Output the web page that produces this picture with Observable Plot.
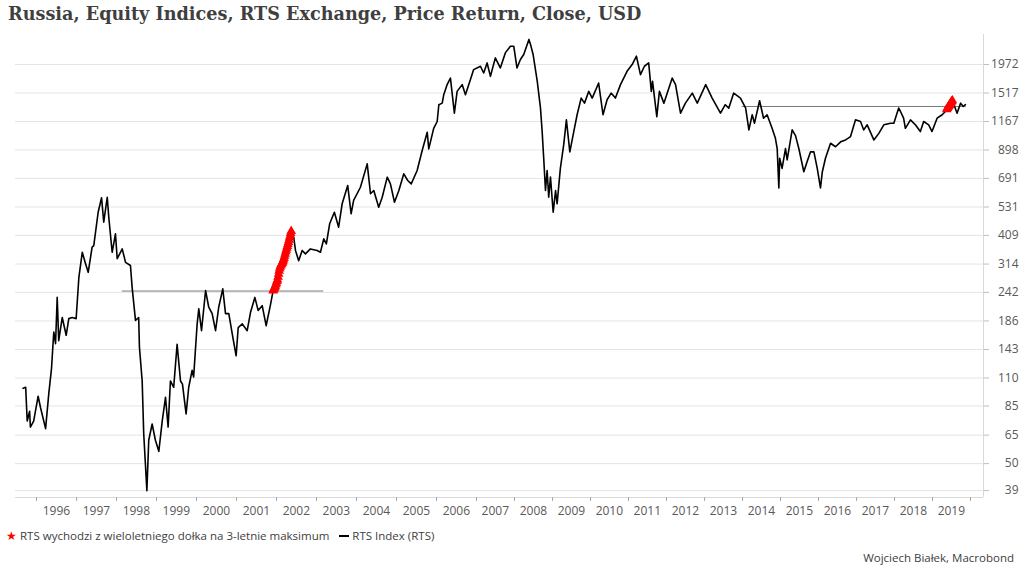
<!DOCTYPE html>
<html><head><meta charset="utf-8">
<script src="https://cdn.jsdelivr.net/npm/d3@7"></script>
<script src="https://cdn.jsdelivr.net/npm/@observablehq/plot@0.6"></script>
<style>
html,body{margin:0;padding:0;background:#fff;}
body{width:1024px;height:574px;overflow:hidden;position:relative;font-family:"Open Sans",sans-serif;}
#title{position:absolute;left:8px;top:3px;font-family:"DejaVu Serif",Georgia,serif;font-weight:bold;font-size:18px;color:#3f3f3f;white-space:nowrap;}
#chart{position:absolute;left:0;top:30px;}
#legend{position:absolute;left:6px;top:527px;font-size:11.5px;color:#404040;white-space:nowrap;display:flex;align-items:center;}
#legend .star{color:#ff0000;font-size:12px;margin-right:3px;}
#legend .ln{display:inline-block;width:10px;height:2px;background:#000;margin:0 3px 0 10px;}
#caption{position:absolute;right:10px;top:550px;font-size:11.5px;color:#404040;white-space:nowrap;}
</style>
</head><body>
<div id="title">Russia, Equity Indices, RTS Exchange, Price Return, Close, USD</div>
<div id="chart"></div>
<div id="legend"><span class="star">★</span><span id="leg1">RTS wychodzi z wieloletniego dołka na 3-letnie maksimum</span><span class="ln"></span><span>RTS Index (RTS)</span></div>
<div id="caption">Wojciech Białek, Macrobond</div>
<script>
const rtsDates = [
"1995-09-01","1995-09-24","1995-10-08","1995-10-30","1995-11-06","1995-12-06",
"1996-01-16","1996-02-06","1996-03-24","1996-04-22","1996-05-17","1996-05-29","1996-06-07","1996-06-23","1996-07-08","1996-07-22","1996-08-23","1996-09-28","1996-10-22","1996-11-22","1996-12-28",
"1997-01-22","1997-02-22","1997-03-24","1997-04-17","1997-05-23","1997-06-07","1997-07-17","1997-08-17","1997-09-06","1997-10-08","1997-10-22","1997-11-22","1997-12-22",
"1998-01-07","1998-02-22","1998-03-24","1998-05-08","1998-05-23","1998-06-23","1998-07-22","1998-07-29","1998-08-23","1998-09-06","1998-10-05","1998-10-22","1998-11-22","1998-12-22",
"1999-01-22","1999-02-22","1999-03-24","1999-04-17","1999-05-08","1999-06-07","1999-07-08","1999-08-08","1999-08-26","1999-09-28","1999-10-22","1999-11-22","1999-12-06",
"2000-01-07","2000-01-22","2000-02-16","2000-03-24","2000-04-22","2000-05-23","2000-06-23","2000-07-22","2000-08-28","2000-09-22","2000-10-22","2000-11-28","2000-12-28",
"2001-01-16","2001-02-22","2001-04-08","2001-05-08","2001-06-17","2001-07-17","2001-08-23","2001-09-28","2001-11-06","2001-12-01","2001-12-10","2001-12-25",
"2002-01-10","2002-01-25","2002-02-10","2002-02-25","2002-03-12","2002-03-28","2002-04-12","2002-04-28","2002-05-15","2002-06-07","2002-06-23","2002-07-22","2002-08-23","2002-09-22","2002-11-06",
"2003-01-07","2003-02-06","2003-03-08","2003-04-01","2003-05-01","2003-06-13","2003-07-22","2003-08-23","2003-10-13","2003-11-13","2003-12-06",
"2004-02-06","2004-04-08","2004-05-08","2004-06-07","2004-07-22","2004-08-23","2004-10-08","2004-11-06","2004-12-13",
"2005-01-22","2005-03-08","2005-04-13","2005-05-15","2005-07-08","2005-08-23","2005-10-08","2005-10-22","2005-12-06",
"2006-01-07","2006-01-22","2006-02-22","2006-03-08","2006-04-08","2006-05-08","2006-06-13","2006-07-08","2006-08-23","2006-09-22","2006-11-06","2006-12-06",
"2007-02-08","2007-03-11","2007-04-13","2007-05-15","2007-07-01","2007-08-18","2007-10-05","2007-11-23","2007-12-25",
"2008-01-25","2008-02-27","2008-03-30","2008-05-19","2008-06-03","2008-06-28","2008-08-07","2008-09-07","2008-09-23","2008-10-08","2008-10-25","2008-11-10","2008-11-25","2008-12-12",
"2009-01-07","2009-01-30","2009-02-14","2009-03-17","2009-04-18","2009-05-14","2009-06-16","2009-07-24","2009-08-25","2009-10-03","2009-11-04","2009-12-15",
"2010-01-17","2010-03-20","2010-05-01","2010-06-09","2010-07-18","2010-08-28","2010-10-16","2010-12-18",
"2011-02-05","2011-03-18","2011-04-26","2011-06-03","2011-07-14","2011-08-08","2011-08-20","2011-09-30","2011-10-25","2011-12-07",
"2012-02-25","2012-03-28","2012-05-15","2012-07-01","2012-09-05","2012-10-23",
"2013-01-12","2013-03-15","2013-06-03","2013-07-19","2013-08-22","2013-10-08","2013-12-12",
"2014-01-31","2014-03-03","2014-04-04","2014-04-26","2014-06-14","2014-07-22","2014-08-25","2014-10-12","2014-11-13","2014-11-30","2014-12-16","2014-12-24",
"2015-01-16","2015-02-18","2015-03-06","2015-04-23","2015-05-25","2015-06-26","2015-08-13","2015-09-14","2015-10-16","2015-11-18","2015-12-20",
"2016-01-20","2016-02-07","2016-03-08","2016-04-26","2016-06-13","2016-08-01","2016-09-17","2016-11-04","2016-12-22",
"2017-02-08","2017-03-11","2017-04-13","2017-06-16","2017-08-03","2017-09-20","2017-11-23","2017-12-25",
"2018-02-10","2018-02-27","2018-03-29","2018-04-15","2018-06-03","2018-07-20","2018-09-06","2018-10-08","2018-11-25","2018-12-27",
"2019-02-14","2019-04-04","2019-05-05","2019-05-25","2019-06-20","2019-07-10","2019-08-25","2019-09-28","2019-10-24","2019-11-13"
];
const rtsValues = [
100,101,74,81,70,74,
93,84,69,95,120,146,168,151,231,155,192,163,190,192,190,
278,350,315,291,367,372,506,578,462,581,483,350,415,
330,361,319,310,254,187,192,146,107,66,39,62,72,62,
56,74,92,70,107,101,150,107,104,79,101,118,111,
181,208,170,246,211,199,170,211,250,199,199,160,135,
175,181,170,201,231,205,214,178,215,246,250,258,
272,295,312,318,335,358,378,400,425,402,356,324,356,345,361,
356,350,396,378,455,506,441,547,647,499,564,
637,790,600,618,530,581,699,657,555,
618,721,678,657,743,893,1057,907,1096,
1167,1362,1382,1494,1639,1741,1260,1540,1639,1494,1716,1882,
1941,1824,2001,1769,2096,1911,2195,2335,2335,
1911,2065,2163,2485,2373,2163,1690,1320,1064,832,618,743,581,699,
506,618,547,758,941,1185,882,1064,1242,1448,1382,1540,
1448,1663,1242,1426,1516,1448,1639,1853,
1972,2129,1797,1941,2001,1540,1690,1221,1540,1382,
1741,1639,1260,1382,1516,1382,
1639,1448,1260,1362,1320,1516,1448,
1320,1080,1242,1149,1413,1203,1242,1096,1000,910,633,832,
758,910,820,1080,1025,910,735,807,882,882,758,
633,735,832,955,925,968,985,1016,1185,
1167,1080,1132,985,1046,1132,1149,1149,
1320,1280,1203,1096,1185,1132,1064,1167,1132,1064,
1203,1242,1280,1320,1380,1420,1260,1382,1340,1362
];
// breakout to 3-year highs (red markers)
const breakoutDates = ["2001-12-01","2001-12-06","2001-12-11","2001-12-16","2001-12-21","2001-12-26","2001-12-31","2002-01-05","2002-01-10","2002-01-15","2002-01-20","2002-01-25","2002-01-30","2002-02-04","2002-02-09","2002-02-14","2002-02-19","2002-02-24","2002-03-01","2002-03-06","2002-03-11","2002-03-16","2002-03-21","2002-03-26","2002-03-31","2002-04-05","2002-04-10","2002-04-15","2002-04-20","2002-04-25","2002-04-30","2002-05-05","2002-05-10","2002-05-15",
"2019-05-18","2019-05-24","2019-05-30","2019-06-05","2019-06-11","2019-06-17","2019-06-23","2019-06-29","2019-07-05","2019-07-11"];
const breakoutValues = [246,248,251,254,257,260,264,268,272,279,287,295,301,306,310,313,316,318,322,327,332,338,345,352,358,364,370,377,384,392,400,408,417,425,
1305,1318,1330,1342,1355,1368,1380,1392,1404,1415];
// horizontal reference levels
const refStart = ["1998-02-22","2013-12-28"];
const refEnd = ["2003-03-08","2019-11-20"];
const refValue = [245,1340];
const yTicks = [39,50,65,85,110,143,186,242,314,409,531,691,898,1167,1517,1972];
const yearLabels = d3.range(1996, 2020);

const parse = s => new Date(s + "T00:00:00Z");
const series = rtsDates.map((d,i)=>({date:parse(d), value:rtsValues[i]}));
const breakouts = breakoutDates.map((d,i)=>({date:parse(d), value:breakoutValues[i]}));
const refs = refValue.map((v,i)=>({start:parse(refStart[i]), end:parse(refEnd[i]), value:v}));
const yearStarts = d3.range(1996, 2021).map(y=>new Date(Date.UTC(y,0,1)));
const yearMids = yearLabels.map(y=>new Date(Date.UTC(y,6,1)));

const xDomain = [parse("1995-06-23"), parse("1996-01-01"), parse("2007-01-01"), parse("2020-01-01"), parse("2020-05-05")];
const chart = Plot.plot({
  width: 1024, height: 490,
  marginTop: 4, marginBottom: 23, marginLeft: 15, marginRight: 41,
  style: {fontFamily: "'Open Sans', sans-serif", fontSize: "12px", color: "#595959", background: "#fff"},
  x: {type: "utc", domain: xDomain, range: [15, 36, 476, 970, 983]},
  y: {type: "log", domain: [36.6, 2600], range: [467, 4]},
  marks: [
    Plot.ruleY(yTicks, {stroke: "#e4e4e4", strokeWidth: 1}),
    Plot.ruleY([36.6], {stroke: "#d9d9d9"}),
    Plot.ruleX([xDomain[4]], {stroke: "#d9d9d9"}),
    Plot.axisY(yTicks, {anchor: "right", tickSize: 5, stroke: "#bfbfbf", fill: "none", tickFormat: d => String(d), label: null}),
    Plot.text(yTicks, {y: d => d, text: d => String(d), frameAnchor: "right", textAnchor: "end", dx: 35, fill: "#595959", fontSize: 12}),
    Plot.axisX(yearStarts, {anchor: "bottom", tickSize: 4, stroke: "#a6a6a6", tickFormat: () => "", label: null}),
    Plot.axisX(yearMids, {anchor: "bottom", tickSize: 0, tickPadding: 9, fill: "#595959", tickFormat: d => String(d.getUTCFullYear()), label: null}),
    Plot.ruleY(refs, {y: "value", x1: "start", x2: "end", stroke: "#7a7a7a", strokeWidth: 1}),
    Plot.lineY(series, {x: "date", y: "value", stroke: "#000", strokeWidth: 1.6}),
    Plot.dot(breakouts, {x: "date", y: "value", symbol: "triangle", r: 3.6, fill: "#ff0000", stroke: "none"})
  ]
});
document.getElementById("chart").appendChild(chart);
// fit title width to the reference's span
const t = document.getElementById("title");
const w = t.getBoundingClientRect().width;
t.style.fontSize = (18 * 634 / w).toFixed(2) + "px";
</script>
</body></html>
